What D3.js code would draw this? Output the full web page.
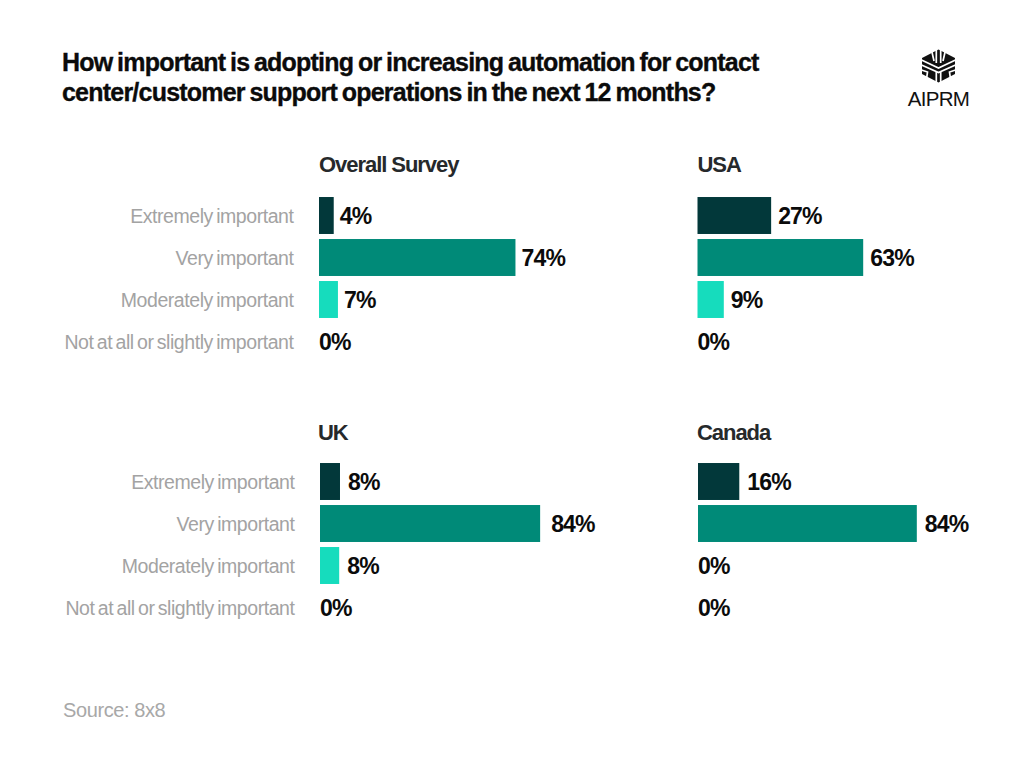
<!DOCTYPE html>
<html>
<head>
<meta charset="utf-8"/>
<title>Automation importance</title>
<script src="https://cdn.jsdelivr.net/npm/d3@7/dist/d3.min.js"></script>
<style>
  html, body { margin: 0; padding: 0; background: #fff; }
  svg { display: block; }
  text { font-family: "Liberation Sans", Arial, sans-serif; }
  .title { font-size: 25px; font-weight: 700; fill: #0b0b0b; stroke: #0b0b0b; stroke-width: 0.35px; letter-spacing: -0.78px; word-spacing: -1.5px; }
  .panelTitle { font-size: 22px; font-weight: 700; fill: #26292b; letter-spacing: -1.05px; }
  .cat { font-size: 19.5px; fill: #a3a3a3; text-anchor: end; letter-spacing: -0.44px; word-spacing: -1.66px; }
  .val { font-size: 23px; font-weight: 700; fill: #0b0b0b; letter-spacing: -0.8px; }
  .source { font-size: 20px; fill: #a8a8a8; letter-spacing: -0.4px; }
  .brand { font-size: 20.5px; fill: #111; text-anchor: middle; letter-spacing: -0.7px; }
</style>
</head>
<body>
<div id="chart"></div>
<script>
const titleLines = [
  "How important is adopting or increasing automation for contact",
  "center/customer support operations in the next 12 months?"
];
const categories = ["Extremely important", "Very important", "Moderately important", "Not at all or slightly important"];
const colours = ["#02383a", "#008a78", "#16dcbd", "#16dcbd"];

const panelNames = ["Overall Survey", "USA", "UK", "Canada"];
// what the labels say
const overallLabels = [4, 74, 7, 0];
const usaLabels = [27, 63, 9, 0];
const ukLabels = [8, 84, 8, 0];
const canadaLabels = [16, 84, 0, 0];
// bar lengths, they don't quite follow the labels
const overallBars = [5.6, 74.7, 7.2, 0];
const usaBars = [28, 63, 10, 0];
const ukBars = [7.6, 83.7, 7.3, 0];
const canadaBars = [15.7, 83.2, 0, 0];

const width = 1024, height = 762;

const svg = d3.select("#chart").append("svg")
  .attr("width", width)
  .attr("height", height);

svg.selectAll(".title")
  .data(titleLines)
  .enter().append("text")
  .attr("class", "title")
  .attr("x", 62)
  .attr("y", (d, i) => 71 + i * 30)
  .text(d => d);

const x = d3.scaleLinear().domain([0, 100]).range([0, 263]);
const y = d3.scaleBand().domain(categories).range([0, 168]).paddingInner(0.12).paddingOuter(0.06);

const panels = [
  {name: panelNames[0], labels: overallLabels, bars: overallBars, left: 319, top: 194.5, titleX: 0, titleY: -23, gap: 6, cats: true},
  {name: panelNames[1], labels: usaLabels, bars: usaBars, left: 697.5, top: 194.5, titleX: 0, titleY: -23, gap: 7, cats: false},
  {name: panelNames[2], labels: ukLabels, bars: ukBars, left: 320, top: 460.5, titleX: -2, titleY: -21, gap: 8, cats: true},
  {name: panelNames[3], labels: canadaLabels, bars: canadaBars, left: 698, top: 460.5, titleX: -1, titleY: -21, gap: 8, cats: false}
];

panels.forEach(p => {
  const g = svg.append("g").attr("transform", `translate(${p.left},${p.top})`);

  g.append("text")
    .attr("class", "panelTitle")
    .attr("x", p.titleX)
    .attr("y", p.titleY)
    .text(p.name);

  g.selectAll("rect")
    .data(p.bars.map((v, i) => ({v: v, cat: categories[i], colour: colours[i]})))
    .enter().append("rect")
    .attr("y", d => y(d.cat))
    .attr("width", d => x(d.v))
    .attr("height", y.bandwidth())
    .attr("fill", d => d.colour);

  g.selectAll(".val")
    .data(p.labels.map((v, i) => ({v: v, bar: p.bars[i], cat: categories[i]})))
    .enter().append("text")
    .attr("class", "val")
    // the long UK bar has a bit more air before its label
    .attr("x", d => d.bar > 0 ? x(d.bar) + p.gap + (p.name === "UK" && d.v > 50 ? 3 : 0) : 0)
    .attr("y", d => y(d.cat) + y.bandwidth() / 2 + 8.5)
    .text(d => d.v + "%");

  if (p.cats) {
    g.selectAll(".cat")
      .data(categories)
      .enter().append("text")
      .attr("class", "cat")
      .attr("x", -25.5)
      .attr("y", d => y(d) + y.bandwidth() / 2 + 7)
      .text(d => d);
  }
});

svg.append("text")
  .attr("class", "source")
  .attr("x", 63)
  .attr("y", 717)
  .text("Source: 8x8");

// logo mark: black hexagon cut up with white lines
const logo = svg.append("g").attr("transform", "translate(938.5,66)");
logo.append("path")
  .attr("d", "M0,-16.5 L16.5,-8 L16.5,8 L0,16.5 L-16.5,8 L-16.5,-8 Z")
  .attr("fill", "#111");
const cuts = [
  "M-2.2,-17 V-3", "M2.2,-17 V-3", "M-2.2,6 V17", "M2.2,6 V17",
  "M-7,-16 L-4.5,-5", "M7,-16 L4.5,-5",
  "M-17,-6 L0,2 L17,-6", "M-17,-1 L0,6.5 L17,-1",
  "M-17,4 L-11,6 L-12,13", "M17,4 L11,6 L12,13"
];
logo.selectAll(".cut")
  .data(cuts)
  .enter().append("path")
  .attr("d", d => d)
  .attr("fill", "none")
  .attr("stroke", "#fff")
  .attr("stroke-width", 1.7);

svg.append("text")
  .attr("class", "brand")
  .attr("x", 938.5)
  .attr("y", 106)
  .text("AIPRM");
</script>
</body>
</html>
